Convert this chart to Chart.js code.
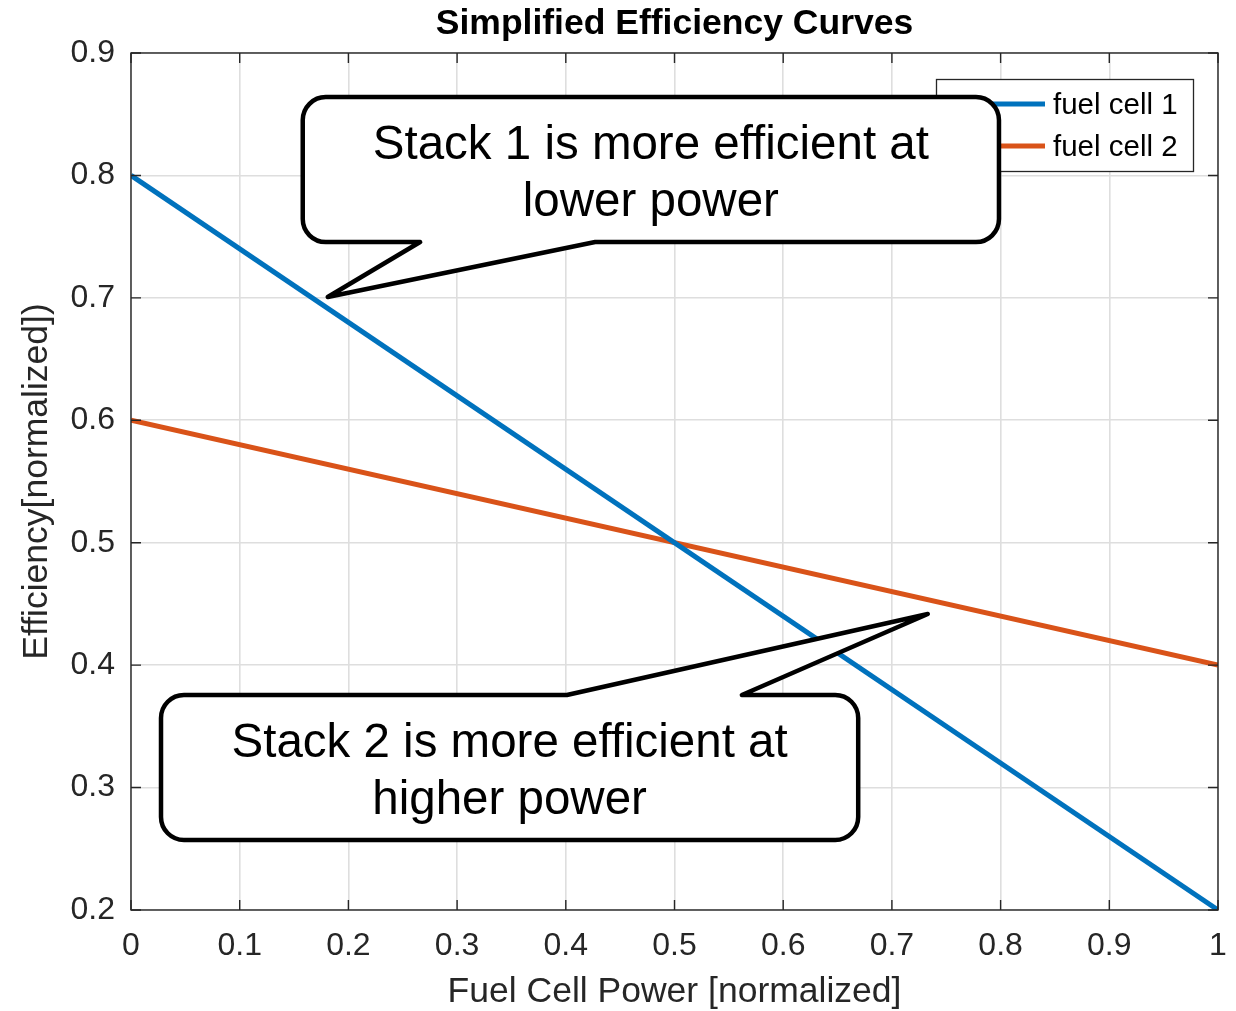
<!DOCTYPE html>
<html><head><meta charset="utf-8">
<script src="https://cdn.jsdelivr.net/npm/chart.js@4.4.0/dist/chart.umd.min.js"></script>
<style>html,body{margin:0;padding:0;background:#fff;}#wrap{width:1236px;height:1011px;}</style>
</head><body><div id="wrap"><canvas id="c" width="1236" height="1011"></canvas></div>
<script>
const xValues = [0, 1];
const fuelCell1 = [0.8, 0.2];
const fuelCell2 = [0.6, 0.4];
const seriesNames = ['fuel cell 1', 'fuel cell 2'];
const xTickValues = [0, 0.1, 0.2, 0.3, 0.4, 0.5, 0.6, 0.7, 0.8, 0.9, 1];
const xTickLabels = ['0', '0.1', '0.2', '0.3', '0.4', '0.5', '0.6', '0.7', '0.8', '0.9', '1'];
const yTickValues = [0.2, 0.3, 0.4, 0.5, 0.6, 0.7, 0.8, 0.9];
const yTickLabels = ['0.2', '0.3', '0.4', '0.5', '0.6', '0.7', '0.8', '0.9'];
const callout1Text = ['Stack 1 is more efficient at', 'lower power'];
const callout2Text = ['Stack 2 is more efficient at', 'higher power'];

const FONT = '"Liberation Sans", Arial, Helvetica, sans-serif';
const AXC = '#262626';

// callouts in data coordinates
const callouts = [
  {x0: 0.158, x1: 0.7985, y0: 0.864, y1: 0.7456, edge: 'bottom', b0: 0.266, b1: 0.427, tip: [0.181, 0.7007], text: callout1Text},
  {x0: 0.0276, x1: 0.669, y0: 0.3756, y1: 0.2572, edge: 'top', b0: 0.401, b1: 0.562, tip: [0.733, 0.4418], text: callout2Text}
];

const decor = {
  id: 'decor',
  afterDatasetsDraw(chart) {
    const ctx = chart.ctx, a = chart.chartArea, xs = chart.scales.x, ys = chart.scales.y;
    ctx.save();
    // box
    ctx.strokeStyle = AXC; ctx.lineWidth = 1.4;
    ctx.strokeRect(a.left, a.top, a.right - a.left, a.bottom - a.top);
    // inner ticks
    ctx.beginPath();
    const tl = 10;
    xTickValues.forEach(v => {
      const px = xs.getPixelForValue(v);
      ctx.moveTo(px, a.bottom); ctx.lineTo(px, a.bottom - tl);
      ctx.moveTo(px, a.top); ctx.lineTo(px, a.top + tl);
    });
    yTickValues.forEach(v => {
      const py = ys.getPixelForValue(v);
      ctx.moveTo(a.left, py); ctx.lineTo(a.left + tl, py);
      ctx.moveTo(a.right, py); ctx.lineTo(a.right - tl, py);
    });
    ctx.stroke();
    // title
    ctx.fillStyle = '#000';
    ctx.font = 'bold 35.5px ' + FONT;
    ctx.textAlign = 'center'; ctx.textBaseline = 'middle';
    ctx.fillText('Simplified Efficiency Curves', (a.left + a.right) / 2, 24);
    // legend
    const lx0 = 936, ly0 = 79, lw = 257, lh = 92;
    ctx.fillStyle = '#fff';
    ctx.fillRect(lx0, ly0, lw, lh);
    ctx.strokeStyle = AXC; ctx.lineWidth = 1.3;
    ctx.strokeRect(lx0 + 0.5, ly0 + 0.5, lw, lh);
    chart.data.datasets.forEach((ds, i) => {
      const yy = 104 + i * 42;
      ctx.strokeStyle = ds.borderColor; ctx.lineWidth = 5;
      ctx.beginPath(); ctx.moveTo(985, yy); ctx.lineTo(1045, yy); ctx.stroke();
      ctx.fillStyle = '#000';
      ctx.font = '29.5px ' + FONT;
      ctx.textAlign = 'left'; ctx.textBaseline = 'middle';
      ctx.fillText(ds.label, 1053, yy + 2);
    });
    // callouts
    callouts.forEach(c => {
      const L = xs.getPixelForValue(c.x0), R = xs.getPixelForValue(c.x1);
      const T = ys.getPixelForValue(c.y0), B = ys.getPixelForValue(c.y1);
      const b0 = xs.getPixelForValue(c.b0), b1 = xs.getPixelForValue(c.b1);
      const tx = xs.getPixelForValue(c.tip[0]), ty = ys.getPixelForValue(c.tip[1]);
      const r = 23;
      ctx.beginPath();
      ctx.moveTo(L + r, T);
      if (c.edge === 'top') { ctx.lineTo(b0, T); ctx.lineTo(tx, ty); ctx.lineTo(b1, T); }
      ctx.lineTo(R - r, T);
      ctx.arcTo(R, T, R, T + r, r);
      ctx.lineTo(R, B - r);
      ctx.arcTo(R, B, R - r, B, r);
      if (c.edge === 'bottom') { ctx.lineTo(b1, B); ctx.lineTo(tx, ty); ctx.lineTo(b0, B); }
      ctx.lineTo(L + r, B);
      ctx.arcTo(L, B, L, B - r, r);
      ctx.lineTo(L, T + r);
      ctx.arcTo(L, T, L + r, T, r);
      ctx.closePath();
      ctx.fillStyle = '#fff'; ctx.fill();
      ctx.strokeStyle = '#000'; ctx.lineWidth = 4.5; ctx.lineJoin = 'round'; ctx.lineCap = 'round';
      ctx.stroke();
      ctx.fillStyle = '#000';
      ctx.font = '47.5px ' + FONT;
      ctx.textAlign = 'center'; ctx.textBaseline = 'middle';
      const cx = (L + R) / 2, cy = (T + B) / 2;
      ctx.fillText(c.text[0], cx, cy - 24);
      ctx.fillText(c.text[1], cx, cy + 33);
    });
    ctx.restore();
  }
};

new Chart(document.getElementById('c'), {
  type: 'scatter',
  data: {
    datasets: [
      {label: seriesNames[0], data: xValues.map((x, i) => ({x, y: fuelCell1[i]})), showLine: true, borderColor: '#0072BD', borderWidth: 5, pointRadius: 0, fill: false},
      {label: seriesNames[1], data: xValues.map((x, i) => ({x, y: fuelCell2[i]})), showLine: true, borderColor: '#D95319', borderWidth: 5, pointRadius: 0, fill: false}
    ]
  },
  options: {
    responsive: false, animation: false, devicePixelRatio: 1,
    layout: {padding: {top: 53, right: 18, left: 0, bottom: 0}},
    plugins: {legend: {display: false}, tooltip: {enabled: false}, title: {display: false}},
    scales: {
      x: {
        type: 'linear', min: 0, max: 1,
        afterBuildTicks: s => { s.ticks = xTickValues.map(v => ({value: v})); },
        afterFit: s => { s.height = 101; s.paddingRight = 0; s.paddingLeft = 0; },
        ticks: {callback: (v, i) => xTickLabels[i], color: AXC, font: {family: FONT, size: 32}, padding: 17, maxRotation: 0, autoSkip: false},
        grid: {color: '#dedede', lineWidth: 1.6, drawTicks: false},
        border: {display: false},
        title: {display: true, text: 'Fuel Cell Power [normalized]', color: AXC, font: {family: FONT, size: 35.5, lineHeight: 1.2}, padding: {top: 0, bottom: -3}}
      },
      y: {
        type: 'linear', min: 0.2, max: 0.9,
        afterBuildTicks: s => { s.ticks = yTickValues.map(v => ({value: v})); },
        afterFit: s => { s.width = 131; s.paddingTop = 0; s.paddingBottom = 0; },
        ticks: {callback: (v, i) => yTickLabels[i], color: AXC, font: {family: FONT, size: 32}, padding: 16, autoSkip: false},
        grid: {color: '#dedede', lineWidth: 1.6, drawTicks: false},
        border: {display: false},
        title: {display: true, text: 'Efficiency[normalized])', color: AXC, font: {family: FONT, size: 35.5, lineHeight: 1.2}, padding: {top: 16, bottom: 0}}
      }
    }
  },
  plugins: [decor]
});
</script></body></html>
